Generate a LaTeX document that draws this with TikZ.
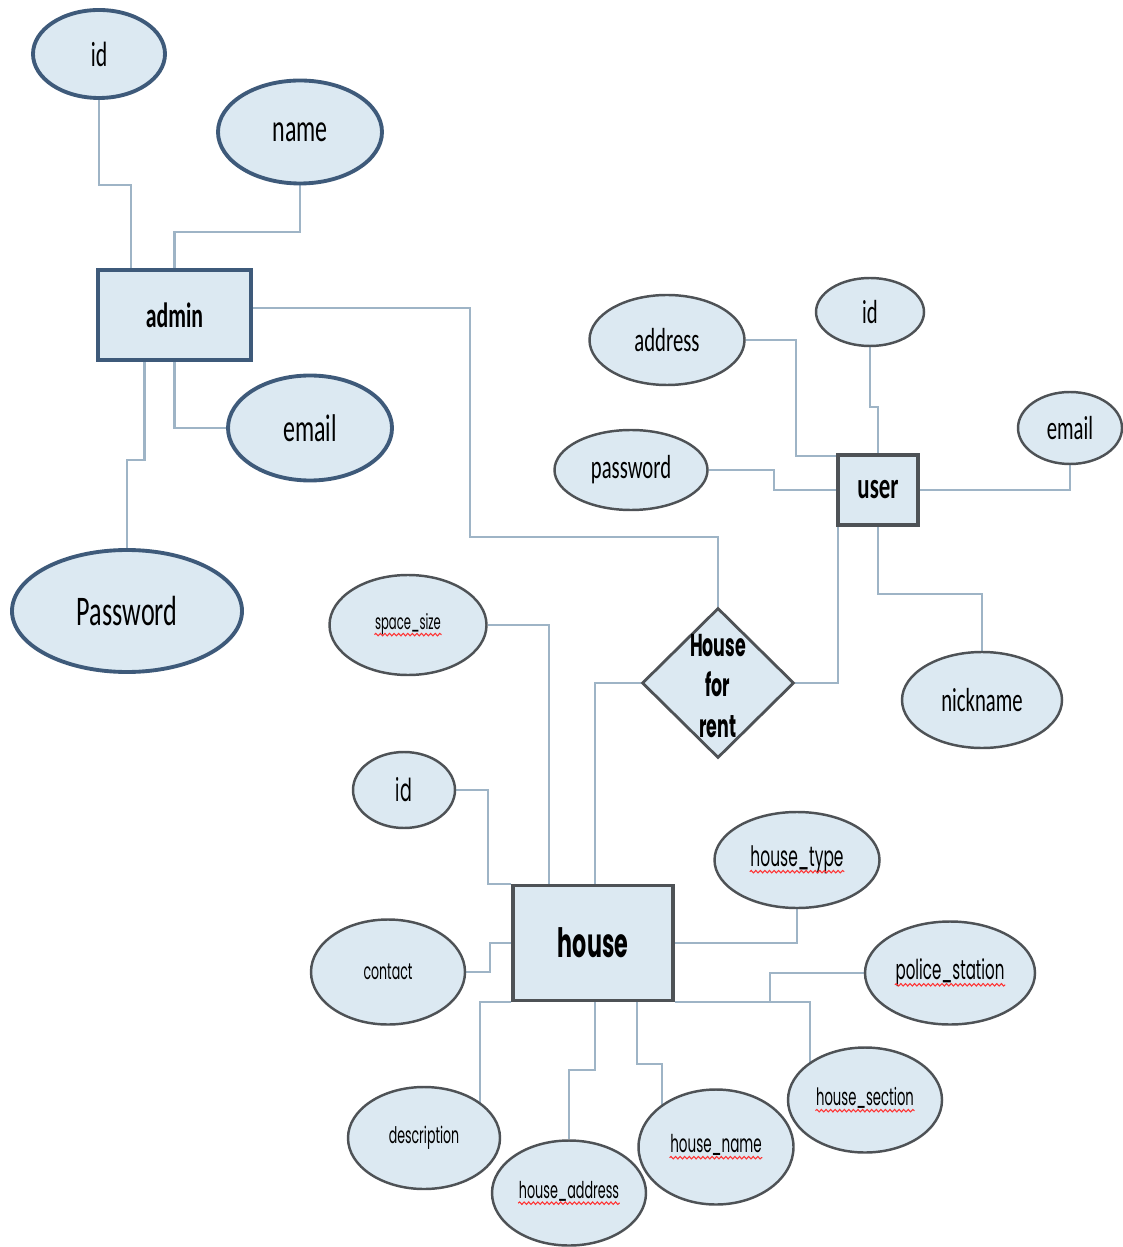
\documentclass[tikz,border=0pt]{standalone}
\usepackage{fontspec}
\usetikzlibrary{shapes.geometric,backgrounds,decorations.pathmorphing}
\setmainfont{Carlito}[FakeStretch=0.62]
\newfontfamily\gothfont{Poppins}[FakeStretch=0.55]
\definecolor{erfill}{RGB}{220,233,242}
\definecolor{adminline}{RGB}{62,90,122}
\definecolor{wire}{RGB}{158,180,198}
\definecolor{rim}{RGB}{78,82,86}
\newcommand\gsz[1]{\gothfont\fontsize{#1}{1.28\dimexpr #1pt\relax}\selectfont}
\newcommand\csz[1]{\fontsize{#1}{#1}\selectfont}
\newcommand\spellerr[1]{\tikz[baseline=(w.base)]{\node[shape=rectangle,draw=none,fill=none,
		inner sep=0pt,minimum width=0pt,minimum height=0pt] (w) {#1};
	\draw[red!80,line width=0.3pt,decorate,decoration={snake,amplitude=0.35pt,segment length=1.3pt}]
		([yshift=-1.4pt]w.base west) -- ([yshift=-1.4pt]w.base east);}}

\begin{document}
\begin{tikzpicture}[x=0.1mm,y=-0.1mm,
	conn/.style={draw=wire,line width=0.6pt},
	sz/.style 2 args={minimum width=#1,minimum height=#2},
	adminent/.style={draw=adminline,line width=1.1pt,fill=erfill},
	adminatt/.style={ellipse,draw=adminline,line width=1.1pt,fill=erfill,inner sep=0pt},
	ent/.style={draw=rim,line width=0.9pt,fill=erfill},
	att/.style={ellipse,draw=rim,line width=0.7pt,fill=erfill,inner sep=0pt},
	rel/.style={diamond,draw=rim,line width=0.8pt,fill=erfill,inner sep=0pt}]
		\useasboundingbox (0,0) rectangle (1122,1247);
		% admin
		\node[adminent,sz={15.3mm}{9mm},font=\csz{10}\bfseries] (admin) at (174.5,315) {admin};
		\node[adminatt,sz={13.2mm}{8.8mm},font=\csz{10}] (aid) at (99,54) {id};
		\node[adminatt,sz={16.4mm}{10.3mm},font=\csz{11}] (aname) at (300,132) {name};
		\node[adminatt,sz={16.4mm}{10.5mm},font=\csz{11}] (aemail) at (310,428) {email};
		\node[adminatt,sz={23mm}{12.2mm},font=\csz{12}] (apass) at (127,611) {Password};
		% user
		\node[ent,sz={8mm}{7mm},font=\csz{10.5}\bfseries] (user) at (878,490) {user};
		\node[att,sz={15.5mm}{9mm},font=\csz{9.5}] (uaddr) at (667,340) {address};
		\node[att,sz={10.8mm}{6.8mm},font=\csz{9.5}] (uid) at (870,312) {id};
		\node[att,sz={10.4mm}{7.2mm},font=\csz{9.5}] (uemail) at (1070,428) {email};
		\node[att,sz={15.3mm}{8mm},font=\csz{9.5}] (upass) at (631,470) {password};
		\node[att,sz={16mm}{9.6mm},font=\csz{9.5}] (unick) at (982,700) {nickname};
		% relationship
		\node[rel,sz={15.2mm}{15mm}] (hfr) at (718,683) {};
		\node[align=center,inner sep=0pt,font=\gsz{9}\bfseries] (hfrtext) at (718,686) {House\\for\\rent};
		% house
		\node[ent,sz={16mm}{11.5mm},font=\gsz{11.5}\bfseries] (house) at (593,943) {house};
		\node[att,sz={15.7mm}{10mm},font=\gsz{6}] (hspace) at (408,625) {\spellerr{space\_size}};
		\node[att,sz={10.2mm}{7.6mm},font=\gsz{9}] (hid) at (404,790) {id};
		\node[att,sz={16.5mm}{9.6mm},font=\gsz{8}] (htype) at (797,860) {\spellerr{house\_type}};
		\node[att,sz={15.4mm}{10.5mm},font=\gsz{6.5}] (hcontact) at (388,972) {contact};
		\node[att,sz={17mm}{10.3mm},font=\gsz{7.8}] (hpolice) at (950,973) {\spellerr{police\_station}};
		\node[att,sz={15.4mm}{10.5mm},font=\gsz{6.8}] (hsection) at (865,1100) {\spellerr{house\_section}};
		\node[att,sz={15.2mm}{10.2mm},font=\gsz{6.5}] (hdesc) at (424,1138) {description};
		\node[att,sz={15.4mm}{10.5mm},font=\gsz{6.6}] (haddr) at (569,1193) {\spellerr{house\_address}};
		\node[att,sz={15.5mm}{11.5mm},font=\gsz{7}] (hname) at (716,1147) {\spellerr{house\_name}};
		\begin{pgfonlayer}{background}
			\draw[conn] (aid.south) -- ++(0,85) -| ([xshift=3.5mm]admin.north west);
			\draw[conn] (aname.south) -- ++(0,47) -| (admin.north);
			\draw[conn] (admin.south) |- (aemail.west);
			\draw[conn] ([xshift=-3mm]admin.south) -- ++(0,98) -| (apass.north);
			\draw[conn] ([yshift=.7mm]admin.east) -- ++(217,0) -- ++(0,229) -| (hfr.north);
			\draw[conn] (uaddr.east) -- ++(50,0) |- ([yshift=-.3mm]user.north west);
			\draw[conn] (uid.south) -- ++(0,60) -| (user.north);
			\draw[conn] (upass.east) -- ++(65,0) |- (user.west);
			\draw[conn] (user.east) -| (uemail.south);
			\draw[conn] (user.south) -- ++(0,67) -| (unick.north);
			\draw[conn] ([xshift=-4mm]user.south) |- (hfr.east);
			\draw[conn] (hfr.west) -| ([xshift=.2mm]house.north);
			\draw[conn] (hspace.east) -| ([xshift=-4.4mm]house.north);
			\draw[conn] (hid.east) -- ++(32,0) |- (house.north west);
			\draw[conn] (hcontact.east) -- ++(24,0) |- (house.west);
			\draw[conn] (house.east) -| (htype.south);
			\draw[conn] (house.south east) -| ([xshift=-5.5mm]hsection.center);
			\draw[conn] (hpolice.west) -| ([xshift=17.7mm]house.south);
			\draw[conn] (house.south west) -| ([xshift=5.6mm]hdesc.center);
			\draw[conn] ([xshift=.2mm]house.south) -- ++(0,68) -| (haddr.north);
			\draw[conn] ([xshift=4.4mm]house.south) -- ++(0,62) -| ([xshift=-5.4mm]hname.center);
		\end{pgfonlayer}
	\end{tikzpicture}
\end{document}
